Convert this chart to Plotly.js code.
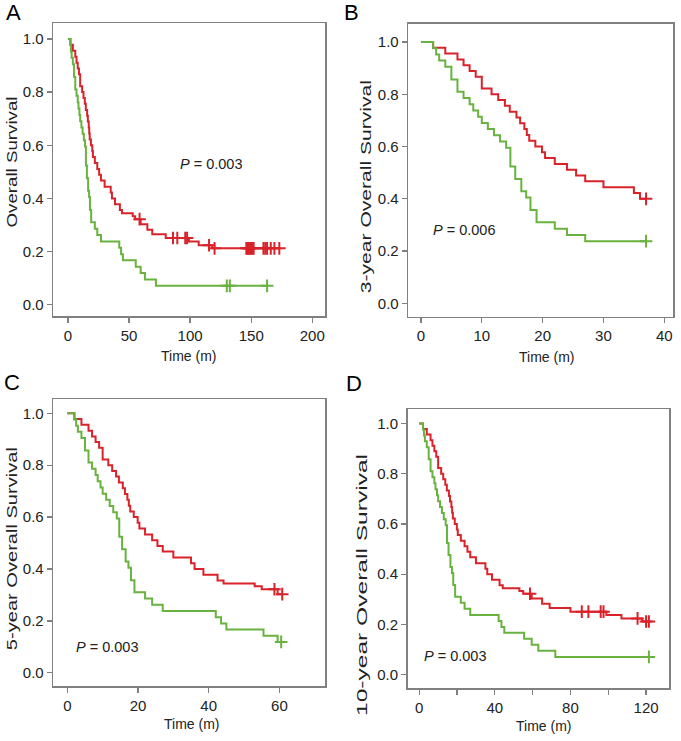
<!DOCTYPE html>
<html>
<head>
<meta charset="utf-8">
<script src="https://cdn.plot.ly/plotly-3.0.1.min.js"></script>
<style>
  html, body { margin: 0; padding: 0; background: #ffffff; }
  #chart { width: 681px; height: 741px; }
</style>
</head>
<body>
<div id="chart"></div>
<script>
// ---------- data ----------
// Red group: step times (months) and survival after each step
const redTimes = [0, 2, 4, 6, 7, 8, 9, 10, 11.6, 12.7, 13.8, 14.6, 15.7, 16.3, 17, 17.4, 17.8, 18.8,
                  19.9, 20.4, 22, 24, 25.5, 27, 30, 35, 36, 38.5, 42.5, 44.2, 53, 55, 59.5, 65, 69, 80,
                  99, 107, 118];
const redSurv  = [1, 0.978, 0.956, 0.933, 0.911, 0.889, 0.867, 0.822, 0.800, 0.778, 0.756, 0.733, 0.711,
                  0.689, 0.667, 0.644, 0.622, 0.600, 0.578, 0.556, 0.533, 0.511, 0.489, 0.467, 0.444,
                  0.422, 0.400, 0.378, 0.356, 0.344, 0.333, 0.322, 0.303, 0.282, 0.265, 0.251,
                  0.238, 0.224, 0.212];
const redCensor = [58.6, 86, 89.5, 96, 97.5, 115.5, 120, 146, 147, 148, 149, 150, 151, 152,
                   160, 161.5, 163, 166, 169];

// Green group
const greenTimes = [0, 2, 2.5, 3, 4, 5, 6, 7, 8, 8.6, 9.4, 10, 11, 12, 13, 14, 14.7, 15.5, 16.5, 17.3,
                    18, 19, 22, 24, 27, 42, 43.5, 45, 55.5, 59.5, 63, 72];
const greenSurv  = [1, 0.976, 0.952, 0.929, 0.905, 0.857, 0.810, 0.786, 0.762, 0.738, 0.714, 0.690,
                    0.667, 0.643, 0.619, 0.595, 0.524, 0.476, 0.429, 0.405, 0.357, 0.310, 0.286,
                    0.262, 0.238, 0.214, 0.190, 0.167, 0.143, 0.119, 0.095, 0.071];
const greenCensor = [130, 132.5];

// Panels: letters, y titles, p-values, follow-up end of each curve
const panelLetters = ['A', 'B', 'C', 'D'];
const yTitles = ['Overall Survival', '3-year Overall Survival', '5-year Overall Survival', '10-year Overall Survival'];
const pValues = ['0.003', '0.006', '0.003', '0.003'];
const redEnds = [173, 37, 60.8, 121.5];
const greenEnds = [163, 37, 60.5, 121.5];
const xTickVals = [[0, 50, 100, 150, 200], [0, 10, 20, 30, 40], [0, 20, 40, 60], [0, 20, 40, 60, 80, 100, 120]];
const xTickText = [['0', '50', '100', '150', '200'], ['0', '10', '20', '30', '40'], ['0', '20', '40', '60'],
                   ['0', '', '40', '', '80', '', '120']];
const yTickVals = [0, 0.2, 0.4, 0.6, 0.8, 1.0];
const yTickText = ['0.0', '0.2', '0.4', '0.6', '0.8', '1.0'];

// ---------- styling / layout (not data) ----------
const W = 681, H = 741;
const FONT = 'Liberation Sans, Arial, Helvetica, sans-serif';
const RED = '#d9222a', GREEN = '#68b23f', FRAME = '#808080', TXT = '#222222';
// frame boxes in pixels [left, right, top, bottom]
const boxes = [[53.3, 325, 23.3, 316], [408.3, 673.3, 24, 316.7], [53.3, 325, 399.3, 686], [407.7, 669.3, 409.3, 688.3]];
const xRanges = [[-12.0, 210.4], [-2.08, 41.48], [-3.96, 72.9], [-6.1, 132.3]];
const yRanges = [[-0.0425, 1.059], [-0.051, 1.069], [-0.051, 1.054], [-0.054, 1.056]];
const pPos = [[90, 0.53], [1.6, 0.28], [1.9, 0.10], [1.3, 0.076]];
const letterPos = [[13.5, 12.5], [351.5, 12.5], [11.5, 382.5], [353.5, 383.5]];
const yTitlePos = [[11, 162.5], [365, 186.5], [11, 548.5], [361, 585]];
const yTitleLen = [131, 213, 203, 262];
const xTitlePos = [[188, 356], [546.7, 357], [191.7, 724], [543, 726]];

function curve(times, surv, end) {
  const xs = [], ys = [];
  for (let i = 0; i < times.length; i++) {
    if (times[i] <= end) { xs.push(times[i]); ys.push(surv[i]); }
  }
  xs.push(end); ys.push(ys[ys.length - 1]);
  return {xs, ys};
}
function survAt(times, surv, t) {
  let v = surv[0];
  for (let i = 0; i < times.length; i++) { if (times[i] <= t) v = surv[i]; }
  return v;
}
function censorMarks(times, surv, cens, end) {
  const xs = [], ys = [];
  cens.forEach(t => { if (t < end) { xs.push(t); ys.push(survAt(times, surv, t)); } });
  xs.push(end); ys.push(survAt(times, surv, end));
  return {xs, ys};
}

const data = [];
const layout = {
  width: W, height: H, margin: {l: 0, r: 0, t: 0, b: 0},
  paper_bgcolor: '#ffffff', plot_bgcolor: '#ffffff', showlegend: false,
  font: {family: FONT, color: TXT},
  annotations: []
};

for (let p = 0; p < 4; p++) {
  const sfx = p === 0 ? '' : String(p + 1);
  const xa = 'x' + sfx, ya = 'y' + sfx;
  const rc = curve(redTimes, redSurv, redEnds[p]);
  const gc = curve(greenTimes, greenSurv, greenEnds[p]);
  const rm = censorMarks(redTimes, redSurv, redCensor, redEnds[p]);
  const gm = censorMarks(greenTimes, greenSurv, greenCensor, greenEnds[p]);
  data.push({x: rc.xs, y: rc.ys, xaxis: xa, yaxis: ya, type: 'scatter', mode: 'lines',
             line: {color: RED, width: 2, shape: 'hv'}, hoverinfo: 'skip'});
  data.push({x: rm.xs, y: rm.ys, xaxis: xa, yaxis: ya, type: 'scatter', mode: 'markers',
             marker: {symbol: 'cross-thin', size: 9, color: RED, line: {color: RED, width: 2}}, hoverinfo: 'skip'});
  data.push({x: gc.xs, y: gc.ys, xaxis: xa, yaxis: ya, type: 'scatter', mode: 'lines',
             line: {color: GREEN, width: 2, shape: 'hv'}, hoverinfo: 'skip'});
  data.push({x: gm.xs, y: gm.ys, xaxis: xa, yaxis: ya, type: 'scatter', mode: 'markers',
             marker: {symbol: 'cross-thin', size: 9, color: GREEN, line: {color: GREEN, width: 2}}, hoverinfo: 'skip'});

  const b = boxes[p];
  const common = {showline: true, mirror: true, linecolor: FRAME, linewidth: 1.6,
                  ticks: 'outside', ticklen: 5, tickwidth: 1.3, tickcolor: FRAME,
                  showgrid: false, zeroline: false, fixedrange: true,
                  tickfont: {family: FONT, size: 15, color: TXT}};
  layout['xaxis' + sfx] = Object.assign({}, common, {
    domain: [b[0] / W, b[1] / W], range: xRanges[p], anchor: ya,
    tickmode: 'array', tickvals: xTickVals[p], ticktext: xTickText[p]});
  layout['yaxis' + sfx] = Object.assign({}, common, {
    domain: [1 - b[3] / H, 1 - b[2] / H], range: yRanges[p], anchor: xa,
    tickmode: 'array', tickvals: yTickVals, ticktext: yTickText});
}

// y titles first (indices 0-3) so they can be stretched afterwards
for (let p = 0; p < 4; p++) {
  layout.annotations.push({text: yTitles[p], xref: 'paper', yref: 'paper',
    x: yTitlePos[p][0] / W, y: 1 - yTitlePos[p][1] / H, xanchor: 'center', yanchor: 'middle',
    textangle: -90, showarrow: false, font: {family: FONT, size: 15, color: TXT}});
}
for (let p = 0; p < 4; p++) {
  const sfx = p === 0 ? '' : String(p + 1);
  layout.annotations.push({text: panelLetters[p], xref: 'paper', yref: 'paper',
    x: letterPos[p][0] / W, y: 1 - letterPos[p][1] / H, xanchor: 'center', yanchor: 'middle',
    showarrow: false, font: {family: FONT, size: 22, color: '#000000'}});
  layout.annotations.push({text: 'Time (m)', xref: 'paper', yref: 'paper',
    x: xTitlePos[p][0] / W, y: 1 - xTitlePos[p][1] / H, xanchor: 'center', yanchor: 'middle',
    showarrow: false, font: {family: FONT, size: 14, color: TXT}});
  layout.annotations.push({text: '<i>P</i> = ' + pValues[p], xref: 'x' + sfx, yref: 'y' + sfx,
    x: pPos[p][0], y: pPos[p][1], xanchor: 'left', yanchor: 'middle',
    showarrow: false, font: {family: FONT, size: 14.5, color: TXT}});
}

Plotly.newPlot('chart', data, layout, {staticPlot: true, displayModeBar: false}).then(function () {
  for (let p = 0; p < 4; p++) {
    const g = document.querySelector('g.annotation[data-index="' + p + '"] text.annotation-text');
    if (g) {
      g.setAttribute('textLength', yTitleLen[p]);
      g.setAttribute('lengthAdjust', 'spacingAndGlyphs');
    }
  }
});
</script>
</body>
</html>
